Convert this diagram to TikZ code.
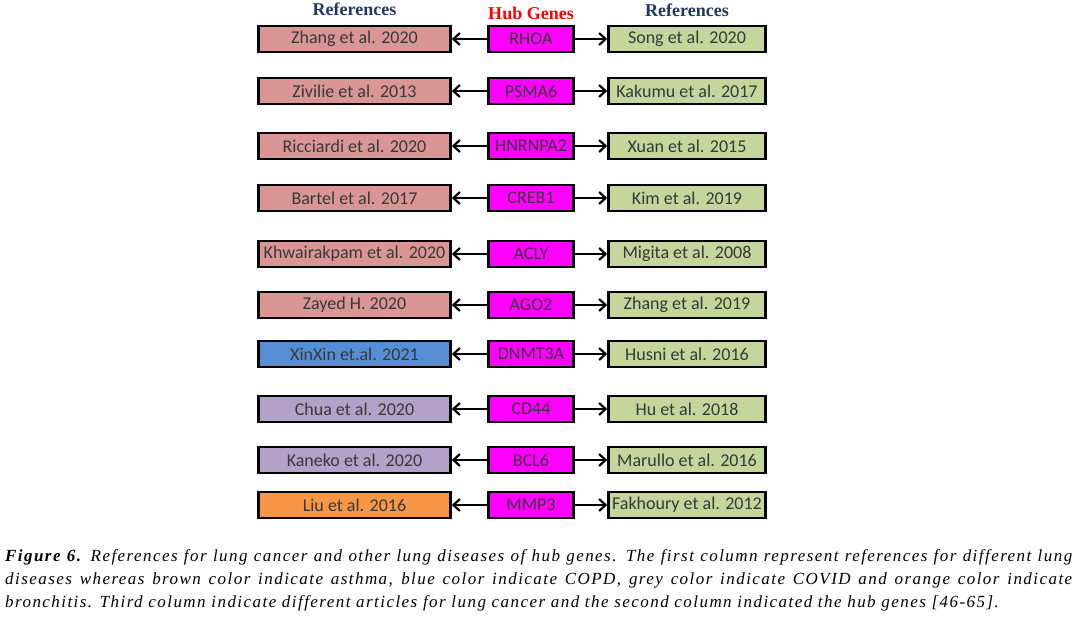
\documentclass[tikz,border=0pt]{standalone}
\usepackage{fontspec}
\setmainfont{Liberation Serif}
\newfontfamily\boxfont{Carlito}
\newfontfamily\capfont[LetterSpace=8.5]{Liberation Serif}
\usetikzlibrary{arrows.meta}
\definecolor{asth}{HTML}{D99694}
\definecolor{copd}{HTML}{558ED5}
\definecolor{covid}{HTML}{B3A2C7}
\definecolor{bron}{HTML}{F79646}
\definecolor{lcancer}{HTML}{C3D69B}
\definecolor{hub}{HTML}{FF00FF}
\definecolor{boxtext}{HTML}{383838}
\definecolor{headblue}{HTML}{1F3864}
\definecolor{headred}{HTML}{FF0000}
\begin{document}
\begin{tikzpicture}[x=1pt,y=-1pt,
  box/.style={draw=black, line width=2.6pt, minimum height=26pt, inner sep=0pt,
    font=\boxfont\fontsize{18}{20}\selectfont, text=boxtext},
  refL/.style={box, minimum width=192pt},
  gene/.style={box, fill=hub, minimum width=85pt},
  refR/.style={box, fill=lcancer, minimum width=157pt},
  conn/.style={line width=2.2pt, -{Straight Barb[length=6.5pt,width=12pt,line width=2.2pt]}},
  head/.style={font=\bfseries\fontsize{18}{20}\selectfont, inner sep=0pt},
  capline/.style={anchor=base west, inner sep=0pt, text=black,
    font=\capfont\itshape\fontsize{17}{20}\selectfont}]
\useasboundingbox (0,0) rectangle (1084,624);
\fill[white] (0,0) rectangle (1084,624);

\node[head, text=headblue] (h1) at (354.5,9) {References};
\node[head, text=headred] (h2) at (531,13) {Hub Genes};
\node[head, text=headblue] (h3) at (687,10) {References};

\foreach \y/\lc/\lt/\g/\rt [count=\i] in {
  39/asth/{Zhang et al. 2020}/RHOA/{Song et al. 2020},
  91/asth/{Zivilie et al. 2013}/PSMA6/{Kakumu et al. 2017},
  146/asth/{Ricciardi et al. 2020}/HNRNPA2/{Xuan et al. 2015},
  198/asth/{Bartel et al. 2017}/CREB1/{Kim et al. 2019},
  254/asth/{Khwairakpam et al. 2020}/ACLY/{Migita et al. 2008},
  305/asth/{Zayed H. 2020}/AGO2/{Zhang et al. 2019},
  354/copd/{XinXin et.al. 2021}/DNMT3A/{Husni et al. 2016},
  409/covid/{Chua et al. 2020}/CD44/{Hu et al. 2018},
  460/covid/{Kaneko et al. 2020}/BCL6/{Marullo et al. 2016},
  505/bron/{Liu et al. 2016}/MMP3/{Fakhoury et al. 2012}}
{
  \node[refL, fill=\lc] (L\i) at (354.5,\y) {\lt};
  \node[gene] (G\i) at (531,\y) {\g};
  \node[refR] (R\i) at (687,\y) {\rt};
  \draw[conn] (G\i.west) -- (L\i.east);
  \draw[conn] (G\i.east) -- (R\i.west);
}

\node[capline] (cap1) at (5,561) {\makebox[1067pt][s]{{\bfseries Figure 6.} References for lung cancer and other lung diseases of hub genes. The first column represent references for different lung}};
\node[capline] (cap2) at (5,584) {\makebox[1067pt][s]{diseases whereas brown color indicate asthma, blue color indicate COPD, grey color indicate COVID and orange color indicate}};
\node[capline] (cap3) at (5,607) {bronchitis. Third column indicate different articles for lung cancer and the second column indicated the hub genes [46-65].};
\end{tikzpicture}
\end{document}
